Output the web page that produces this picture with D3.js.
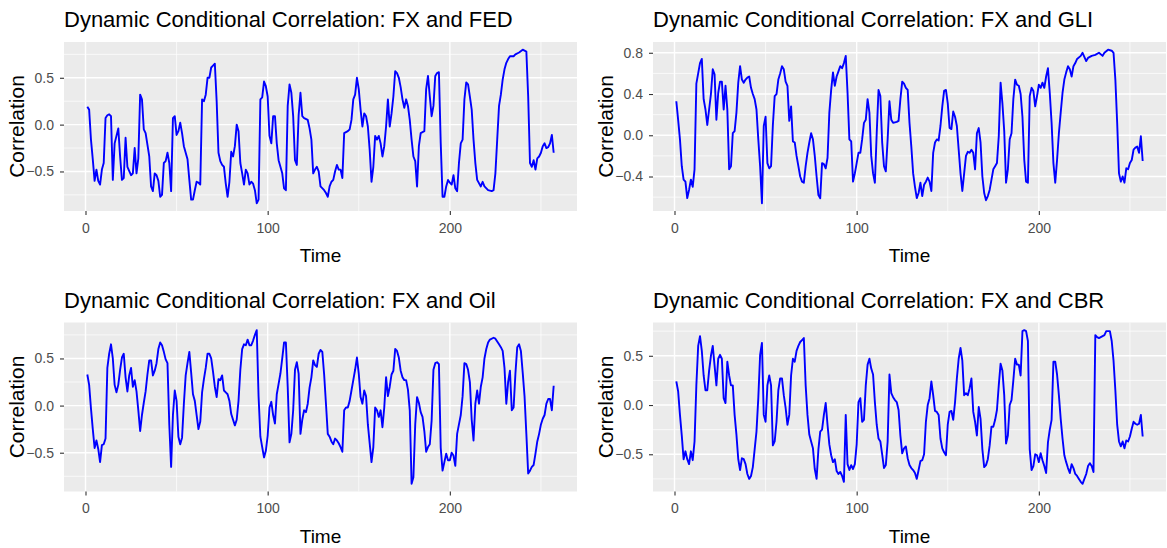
<!DOCTYPE html>
<html>
<head>
<meta charset="utf-8">
<script src="https://cdn.jsdelivr.net/npm/d3@7"></script>
<style>
  body { margin: 0; background: #fff; }
  svg { display: block; font-family: "Liberation Sans", Arial, sans-serif; }
</style>
</head>
<body>
<div id="chart"></div>
<script>
// DCC series: [time, correlation]
var fed = [[1,0.19],[2,0.16],[3,-0.16],[4,-0.37],[5,-0.6],[6,-0.48],[7,-0.6],[8,-0.64],[9,-0.48],[10,-0.41],[11,0.07],[12,0.1],[13,0.11],[14,0.09],[15,-0.59],[16,-0.2],[17,-0.12],[18,-0.04],[19,-0.34],[20,-0.59],[21,-0.57],[22,-0.14],[23,-0.45],[25,-0.54],[26,-0.52],[27,-0.25],[28,-0.52],[29,-0.36],[30,0.32],[31,0.27],[32,-0.05],[33,-0.09],[35,-0.34],[36,-0.66],[37,-0.71],[38,-0.52],[39,-0.54],[40,-0.6],[41,-0.77],[42,-0.75],[43,-0.41],[44,-0.39],[45,-0.3],[46,-0.41],[47,-0.71],[48,0.07],[49,0.09],[50,-0.11],[51,-0.07],[52,0.02],[53,-0.09],[54,-0.23],[56,-0.37],[57,-0.59],[58,-0.8],[59,-0.8],[60,-0.7],[61,-0.61],[62,-0.62],[63,-0.64],[64,0.27],[65,0.25],[66,0.32],[67,0.5],[68,0.5],[69,0.61],[70,0.63],[71,0.65],[72,0.25],[73,-0.3],[74,-0.39],[75,-0.43],[76,-0.45],[77,-0.63],[78,-0.77],[79,-0.61],[80,-0.29],[81,-0.34],[82,-0.23],[83,0.0],[84,-0.07],[85,-0.41],[86,-0.52],[87,-0.64],[88,-0.48],[89,-0.52],[90,-0.64],[91,-0.61],[92,-0.63],[93,-0.7],[94,-0.84],[95,-0.8],[96,0.27],[97,0.29],[98,0.46],[99,0.41],[100,0.3],[101,-0.12],[102,-0.2],[103,0.09],[104,0.09],[105,-0.2],[106,-0.38],[107,-0.45],[108,-0.52],[109,-0.68],[110,-0.7],[111,0.2],[112,0.43],[113,0.34],[114,0.09],[115,-0.38],[116,-0.43],[117,0.1],[118,0.34],[119,0.09],[120,0.07],[122,0.05],[123,-0.04],[124,-0.16],[125,-0.52],[126,-0.48],[127,-0.45],[128,-0.5],[129,-0.66],[131,-0.7],[132,-0.73],[133,-0.77],[134,-0.66],[135,-0.61],[136,-0.59],[137,-0.5],[138,-0.43],[139,-0.48],[140,-0.48],[141,-0.57],[142,-0.09],[144,-0.07],[145,-0.05],[146,0.05],[147,0.27],[148,0.32],[149,0.5],[150,0.38],[151,0.16],[152,-0.02],[153,0.12],[154,0.09],[155,-0.02],[156,-0.27],[157,-0.61],[158,-0.45],[159,-0.12],[160,-0.16],[161,-0.12],[162,-0.2],[163,-0.34],[164,-0.23],[165,-0.02],[166,0.27],[167,-0.02],[168,0.12],[169,0.3],[170,0.57],[171,0.55],[172,0.5],[173,0.4],[174,0.27],[175,0.18],[176,0.27],[177,0.2],[178,0.05],[179,-0.16],[180,-0.34],[181,-0.39],[182,-0.66],[183,-0.23],[184,-0.09],[186,-0.07],[187,0.38],[188,0.52],[189,0.3],[190,0.09],[191,0.2],[192,0.52],[193,0.55],[194,0.56],[195,-0.2],[196,-0.77],[197,-0.77],[198,-0.66],[199,-0.59],[200,-0.62],[201,-0.64],[202,-0.54],[203,-0.68],[204,-0.71],[205,-0.41],[206,-0.2],[207,-0.16],[208,0.27],[209,0.45],[210,0.43],[211,0.3],[212,0.16],[213,-0.16],[214,-0.41],[215,-0.59],[217,-0.66],[218,-0.61],[219,-0.66],[221,-0.7],[223,-0.71],[224,-0.7],[225,-0.52],[226,-0.16],[227,0.2],[228,0.32],[229,0.48],[230,0.59],[231,0.66],[232,0.7],[233,0.73],[235,0.73],[236,0.75],[238,0.77],[240,0.8],[242,0.78],[243,0.3],[244,-0.41],[245,-0.45],[246,-0.38],[247,-0.48],[248,-0.36],[249,-0.34],[250,-0.3],[251,-0.23],[252,-0.2],[253,-0.25],[254,-0.24],[255,-0.2],[256,-0.11],[257,-0.3]];

var gli = [[1,0.33],[2,0.15],[3,-0.04],[4,-0.3],[5,-0.43],[6,-0.45],[7,-0.61],[8,-0.53],[9,-0.43],[10,-0.5],[11,-0.33],[12,0.5],[13,0.6],[14,0.7],[15,0.74],[16,0.35],[17,0.25],[18,0.1],[19,0.25],[20,0.4],[21,0.64],[22,0.59],[23,0.15],[24,0.41],[25,0.52],[26,0.52],[27,0.25],[28,0.48],[29,0.25],[30,-0.33],[31,-0.3],[32,0.02],[33,0.04],[34,0.22],[35,0.51],[36,0.67],[37,0.54],[38,0.51],[39,0.54],[40,0.56],[41,0.57],[42,0.46],[43,0.4],[44,0.35],[45,0.25],[46,-0.04],[47,-0.3],[48,-0.66],[49,0.09],[50,0.18],[51,-0.27],[52,-0.32],[53,-0.3],[54,0.1],[55,0.38],[56,0.4],[57,0.54],[58,0.6],[59,0.67],[60,0.64],[61,0.52],[62,0.48],[63,0.14],[64,0.28],[65,-0.06],[66,-0.07],[67,-0.2],[68,-0.3],[69,-0.4],[70,-0.45],[71,-0.46],[72,-0.3],[73,-0.17],[74,-0.07],[75,0.02],[76,-0.04],[77,-0.2],[78,-0.4],[79,-0.58],[80,-0.61],[81,-0.27],[82,-0.28],[83,-0.32],[84,-0.22],[85,0.22],[86,0.44],[87,0.61],[88,0.48],[89,0.57],[90,0.62],[91,0.67],[92,0.65],[93,0.7],[94,0.77],[95,0.41],[96,-0.04],[97,-0.06],[98,-0.45],[99,-0.37],[100,-0.27],[101,-0.17],[102,-0.17],[103,-0.04],[104,0.12],[105,0.15],[106,0.35],[107,0.22],[108,-0.2],[109,-0.37],[110,-0.46],[111,0.02],[112,0.44],[113,0.38],[114,-0.07],[115,-0.3],[116,-0.35],[117,-0.04],[118,0.33],[119,0.15],[120,0.12],[122,0.13],[123,0.14],[124,0.35],[125,0.52],[126,0.5],[127,0.46],[128,0.44],[129,0.12],[130,-0.11],[131,-0.37],[132,-0.5],[133,-0.61],[134,-0.56],[135,-0.46],[136,-0.59],[137,-0.48],[138,-0.45],[139,-0.41],[140,-0.45],[141,-0.54],[142,-0.17],[143,-0.07],[144,-0.04],[145,-0.05],[146,0.09],[147,0.28],[148,0.43],[149,0.44],[150,0.31],[151,0.07],[152,0.06],[153,0.23],[154,0.18],[155,0.09],[156,-0.14],[157,-0.37],[158,-0.54],[159,-0.37],[160,-0.2],[161,-0.16],[162,-0.17],[163,-0.14],[164,-0.17],[165,-0.33],[166,0.02],[167,0.07],[168,-0.07],[169,-0.4],[170,-0.56],[171,-0.63],[172,-0.59],[173,-0.53],[174,-0.43],[175,-0.33],[176,-0.3],[177,-0.27],[178,-0.01],[179,0.51],[180,0.31],[181,0.04],[182,-0.46],[183,-0.33],[184,-0.04],[185,0.02],[186,0.35],[187,0.54],[188,0.49],[189,0.48],[190,0.4],[191,0.18],[192,-0.24],[193,-0.45],[194,-0.46],[195,0.38],[196,0.46],[197,0.43],[198,0.28],[199,0.38],[200,0.49],[201,0.46],[202,0.51],[203,0.46],[204,0.57],[205,0.65],[206,0.41],[207,0.12],[208,-0.27],[209,-0.46],[210,-0.24],[211,0.02],[212,0.22],[213,0.41],[214,0.54],[215,0.61],[216,0.67],[217,0.64],[218,0.57],[219,0.67],[220,0.7],[221,0.74],[223,0.77],[224,0.8],[226,0.72],[227,0.75],[229,0.77],[231,0.78],[233,0.8],[235,0.77],[236,0.8],[238,0.83],[240,0.82],[241,0.8],[242,0.54],[243,0.12],[244,-0.37],[245,-0.45],[246,-0.4],[247,-0.46],[248,-0.32],[249,-0.33],[250,-0.27],[251,-0.24],[252,-0.14],[253,-0.12],[254,-0.11],[255,-0.17],[256,-0.01],[257,-0.25]];

var oil = [[1,0.33],[2,0.22],[3,-0.03],[4,-0.25],[5,-0.45],[6,-0.37],[7,-0.46],[8,-0.6],[9,-0.42],[10,-0.41],[11,-0.35],[12,0.4],[13,0.55],[14,0.65],[15,0.5],[16,0.22],[17,0.14],[18,0.22],[19,0.38],[20,0.51],[21,0.55],[22,0.3],[23,0.15],[24,0.32],[25,0.4],[26,0.2],[27,0.27],[28,0.15],[29,-0.05],[30,-0.27],[31,-0.1],[32,0.03],[33,0.15],[34,0.33],[35,0.48],[36,0.48],[37,0.32],[38,0.37],[39,0.45],[40,0.6],[41,0.67],[42,0.64],[43,0.57],[44,0.49],[45,0.45],[46,-0.2],[47,-0.65],[48,-0.1],[49,0.16],[50,0.05],[51,-0.33],[52,-0.41],[53,-0.34],[54,0.02],[55,0.32],[56,0.45],[57,0.57],[58,0.35],[59,0.12],[60,0.05],[61,-0.1],[62,-0.25],[63,-0.17],[64,0.14],[65,0.28],[66,0.4],[67,0.55],[68,0.55],[69,0.5],[70,0.36],[71,0.2],[72,0.09],[73,0.28],[74,0.27],[75,0.32],[76,0.16],[77,0.14],[78,0.12],[79,0.05],[80,-0.09],[81,-0.15],[82,-0.21],[83,-0.15],[84,0.05],[85,0.38],[86,0.6],[87,0.65],[88,0.64],[89,0.7],[90,0.64],[91,0.64],[92,0.69],[93,0.75],[94,0.8],[95,0.1],[96,-0.33],[97,-0.44],[98,-0.55],[99,-0.48],[100,-0.32],[101,-0.02],[102,0.04],[103,-0.1],[104,-0.19],[105,0.12],[106,0.23],[107,0.34],[108,0.5],[109,0.67],[110,0.67],[111,0.2],[112,-0.39],[113,-0.3],[114,-0.05],[115,0.38],[116,0.46],[117,0.34],[118,-0.3],[119,-0.15],[120,-0.05],[121,-0.07],[122,0.02],[123,0.19],[124,0.3],[125,0.48],[126,0.43],[127,0.41],[128,0.55],[129,0.59],[130,0.57],[131,0.33],[132,0.02],[133,-0.3],[134,-0.33],[135,-0.38],[136,-0.41],[137,-0.35],[138,-0.37],[139,-0.4],[140,-0.44],[141,-0.49],[142,-0.05],[143,-0.02],[144,-0.02],[145,0.05],[146,0.16],[147,0.27],[148,0.38],[149,0.51],[150,0.34],[151,0.09],[152,0.02],[153,0.16],[154,0.1],[155,-0.2],[156,-0.4],[157,-0.6],[158,-0.44],[159,-0.02],[160,-0.05],[161,-0.12],[162,-0.05],[163,-0.23],[164,-0.02],[165,0.3],[166,0.1],[167,0.2],[168,0.33],[169,0.37],[170,0.6],[171,0.58],[172,0.51],[173,0.37],[174,0.3],[175,0.27],[176,0.27],[177,0.17],[178,-0.05],[179,-0.83],[180,-0.76],[181,-0.2],[182,0.09],[183,0.03],[184,-0.07],[185,-0.12],[186,-0.27],[187,-0.49],[188,-0.44],[189,-0.41],[190,-0.16],[191,0.38],[192,0.45],[193,0.46],[194,0.44],[195,-0.45],[196,-0.69],[197,-0.6],[198,-0.51],[199,-0.58],[200,-0.58],[201,-0.5],[202,-0.53],[203,-0.64],[204,-0.3],[205,-0.2],[206,-0.1],[207,0.1],[208,0.45],[209,0.44],[210,0.38],[211,0.25],[212,-0.15],[213,-0.37],[214,0.02],[215,0.16],[216,0.02],[217,0.2],[218,0.3],[219,0.5],[220,0.6],[221,0.67],[222,0.7],[224,0.72],[225,0.71],[227,0.65],[228,0.62],[229,0.58],[230,0.4],[231,0.02],[232,0.25],[233,0.37],[234,-0.05],[235,-0.02],[236,0.34],[237,0.62],[238,0.65],[239,0.58],[240,0.35],[241,0.1],[242,-0.3],[243,-0.72],[244,-0.69],[245,-0.65],[246,-0.63],[247,-0.51],[248,-0.38],[249,-0.3],[250,-0.2],[251,-0.14],[252,-0.1],[253,0.02],[254,0.07],[255,0.07],[256,-0.05],[257,0.21]];

var cbr = [[1,0.24],[2,0.14],[3,-0.1],[4,-0.31],[5,-0.55],[6,-0.47],[7,-0.55],[8,-0.6],[9,-0.47],[10,-0.56],[11,-0.37],[12,0.2],[13,0.6],[14,0.7],[15,0.55],[16,0.3],[17,0.15],[18,0.15],[19,0.35],[20,0.5],[21,0.6],[22,0.4],[23,0.2],[24,0.47],[25,0.51],[26,0.47],[27,0.07],[28,0.02],[29,0.44],[30,0.3],[31,0.2],[32,0.2],[33,-0.1],[34,-0.3],[35,-0.55],[36,-0.66],[37,-0.54],[38,-0.55],[39,-0.6],[40,-0.7],[41,-0.75],[42,-0.72],[43,-0.63],[44,-0.45],[45,-0.27],[46,0.07],[47,0.51],[48,0.63],[49,-0.1],[50,-0.17],[51,0.2],[52,0.3],[53,0.2],[54,-0.41],[55,-0.37],[56,-0.17],[57,0.15],[58,0.27],[59,0.27],[60,0.1],[61,-0.03],[62,-0.2],[63,-0.1],[64,0.3],[65,0.47],[66,0.44],[67,0.55],[68,0.6],[69,0.64],[70,0.66],[71,0.68],[72,0.2],[73,-0.1],[74,-0.3],[75,-0.37],[76,-0.44],[77,-0.65],[78,-0.75],[79,-0.45],[80,-0.27],[81,-0.25],[82,-0.1],[83,0.02],[84,-0.2],[85,-0.4],[86,-0.51],[87,-0.58],[88,-0.55],[89,-0.67],[90,-0.7],[91,-0.68],[92,-0.72],[93,-0.78],[94,-0.1],[95,-0.6],[96,-0.66],[97,-0.61],[98,-0.65],[99,-0.6],[100,-0.4],[101,0.03],[102,0.07],[103,-0.17],[104,-0.15],[105,0.2],[106,0.41],[107,0.47],[108,0.37],[109,0.31],[110,0.03],[111,-0.2],[112,-0.34],[113,-0.37],[114,-0.5],[115,-0.64],[116,-0.61],[117,-0.37],[118,0.31],[119,0.12],[120,0.08],[121,0.05],[122,0.03],[123,-0.05],[124,-0.31],[125,-0.49],[126,-0.44],[127,-0.42],[128,-0.54],[129,-0.61],[130,-0.64],[131,-0.66],[132,-0.69],[133,-0.75],[134,-0.66],[135,-0.57],[136,-0.56],[137,-0.5],[138,-0.17],[139,0.0],[140,0.07],[141,0.24],[142,0.1],[143,-0.06],[144,-0.07],[145,-0.1],[146,-0.34],[147,-0.44],[148,-0.48],[149,-0.51],[150,-0.2],[151,-0.07],[152,-0.06],[153,-0.15],[154,0.03],[155,0.27],[156,0.47],[157,0.58],[158,0.45],[159,0.1],[160,0.12],[161,0.1],[162,0.17],[163,0.27],[164,-0.07],[165,-0.17],[166,-0.31],[167,-0.02],[168,-0.14],[169,-0.45],[170,-0.63],[171,-0.61],[172,-0.55],[173,-0.41],[174,-0.22],[175,-0.22],[176,-0.15],[177,-0.05],[178,0.2],[179,0.42],[180,0.35],[181,0.1],[182,-0.39],[183,-0.31],[184,0.0],[185,0.05],[186,0.25],[187,0.47],[188,0.41],[189,0.41],[190,0.3],[191,0.75],[192,0.76],[193,0.75],[194,0.65],[195,-0.45],[196,-0.66],[197,-0.62],[198,-0.5],[199,-0.51],[200,-0.58],[201,-0.49],[202,-0.56],[203,-0.62],[204,-0.69],[205,-0.38],[206,-0.25],[207,-0.15],[208,0.44],[209,0.44],[210,0.31],[211,0.1],[212,-0.14],[213,-0.34],[214,-0.51],[215,-0.58],[216,-0.64],[217,-0.69],[218,-0.6],[219,-0.64],[220,-0.7],[221,-0.72],[222,-0.75],[223,-0.78],[224,-0.8],[225,-0.75],[226,-0.7],[227,-0.62],[228,-0.59],[229,-0.62],[230,-0.68],[231,0.71],[232,0.69],[233,0.68],[234,0.69],[236,0.71],[237,0.75],[239,0.75],[240,0.65],[241,0.45],[242,0.15],[243,-0.2],[244,-0.37],[245,-0.42],[246,-0.37],[247,-0.44],[248,-0.36],[249,-0.37],[250,-0.32],[251,-0.24],[252,-0.17],[253,-0.19],[254,-0.2],[255,-0.19],[256,-0.1],[257,-0.32]];

var titles = ["Dynamic Conditional Correlation: FX and FED", "Dynamic Conditional Correlation: FX and GLI",
  "Dynamic Conditional Correlation: FX and Oil", "Dynamic Conditional Correlation: FX and CBR"];
var xTicks = [0, 100, 200];
var yTicksA = [-0.5, 0.0, 0.5];
var yTicksGLI = [-0.4, 0.0, 0.4, 0.8];

var panels = [
  { title: titles[0], data: fed, ticks: yTicksA, col: 0, row: 0 },
  { title: titles[1], data: gli, ticks: yTicksGLI, col: 1, row: 0 },
  { title: titles[2], data: oil, ticks: yTicksA, col: 0, row: 1 },
  { title: titles[3], data: cbr, ticks: yTicksA, col: 1, row: 1 }
];

var width = 1167, height = 548;
var colX = [0, 589], rowY = [0, 280.5];
var pLeft = 64, pRight = 577, pTop = 42, pBottom = 211;

var svg = d3.select("#chart").append("svg")
  .attr("width", width)
  .attr("height", height);

// ggplot-like 5% expansion
function expand(ext) {
  var pad = (ext[1] - ext[0]) * 0.05;
  return [ext[0] - pad, ext[1] + pad];
}

function minorBreaks(ticks, domain) {
  var step = ticks[1] - ticks[0];
  var out = [];
  for (var v = ticks[0] - step / 2; v <= ticks[ticks.length - 1] + step / 2 + 1e-9; v += step) {
    if (v >= domain[0] && v <= domain[1]) out.push(v);
  }
  return out;
}

panels.forEach(function (p) {
  var g = svg.append("g")
    .attr("transform", "translate(" + colX[p.col] + "," + rowY[p.row] + ")");

  var x = d3.scaleLinear()
    .domain(expand(d3.extent(p.data, function (d) { return d[0]; })))
    .range([pLeft, pRight]);
  var y = d3.scaleLinear()
    .domain(expand(d3.extent(p.data, function (d) { return d[1]; })))
    .range([pBottom, pTop]);

  g.append("rect")
    .attr("x", pLeft).attr("y", pTop)
    .attr("width", pRight - pLeft).attr("height", pBottom - pTop)
    .attr("fill", "#ebebeb");

  // minor grid
  g.selectAll(".xminor").data(minorBreaks(xTicks, x.domain())).enter().append("line")
    .attr("x1", function (d) { return x(d); }).attr("x2", function (d) { return x(d); })
    .attr("y1", pTop).attr("y2", pBottom)
    .attr("stroke", "#fff").attr("stroke-width", 0.7);
  g.selectAll(".yminor").data(minorBreaks(p.ticks, y.domain())).enter().append("line")
    .attr("y1", function (d) { return y(d); }).attr("y2", function (d) { return y(d); })
    .attr("x1", pLeft).attr("x2", pRight)
    .attr("stroke", "#fff").attr("stroke-width", 0.7);

  // major grid
  g.selectAll(".xmajor").data(xTicks).enter().append("line")
    .attr("x1", function (d) { return x(d); }).attr("x2", function (d) { return x(d); })
    .attr("y1", pTop).attr("y2", pBottom)
    .attr("stroke", "#fff").attr("stroke-width", 1.4);
  g.selectAll(".ymajor").data(p.ticks).enter().append("line")
    .attr("y1", function (d) { return y(d); }).attr("y2", function (d) { return y(d); })
    .attr("x1", pLeft).attr("x2", pRight)
    .attr("stroke", "#fff").attr("stroke-width", 1.4);

  var line = d3.line()
    .x(function (d) { return x(d[0]); })
    .y(function (d) { return y(d[1]); });

  g.append("path")
    .datum(p.data)
    .attr("d", line)
    .attr("fill", "none")
    .attr("stroke", "#0000ff")
    .attr("stroke-width", 1.9)
    .attr("stroke-linejoin", "round");

  // axes
  var xAxis = g.append("g")
    .attr("transform", "translate(0," + pBottom + ")")
    .call(d3.axisBottom(x).tickValues(xTicks).tickSize(4).tickPadding(8).tickFormat(d3.format("d")));
  var yAxis = g.append("g")
    .attr("transform", "translate(" + pLeft + ",0)")
    .call(d3.axisLeft(y).tickValues(p.ticks).tickSize(4).tickPadding(6).tickFormat(d3.format(".1f")));

  [xAxis, yAxis].forEach(function (a) {
    a.select(".domain").remove();
    a.selectAll(".tick line").attr("stroke", "#333333").attr("stroke-width", 1.1);
    a.selectAll(".tick text")
      .attr("fill", "#4d4d4d")
      .style("font-size", "14px")
      .style("font-family", "'Liberation Sans', Arial, sans-serif");
  });

  g.append("text")
    .attr("x", pLeft)
    .attr("y", 27)
    .style("font-size", "22px")
    .attr("fill", "#000")
    .text(p.title);

  g.append("text")
    .attr("x", (pLeft + pRight) / 2)
    .attr("y", 262)
    .attr("text-anchor", "middle")
    .style("font-size", "19px")
    .attr("fill", "#000")
    .text("Time");

  g.append("text")
    .attr("transform", "translate(24," + ((pTop + pBottom) / 2) + ") rotate(-90)")
    .attr("text-anchor", "middle")
    .style("font-size", "21px")
    .attr("fill", "#000")
    .text("Correlation");
});
</script>
</body>
</html>
